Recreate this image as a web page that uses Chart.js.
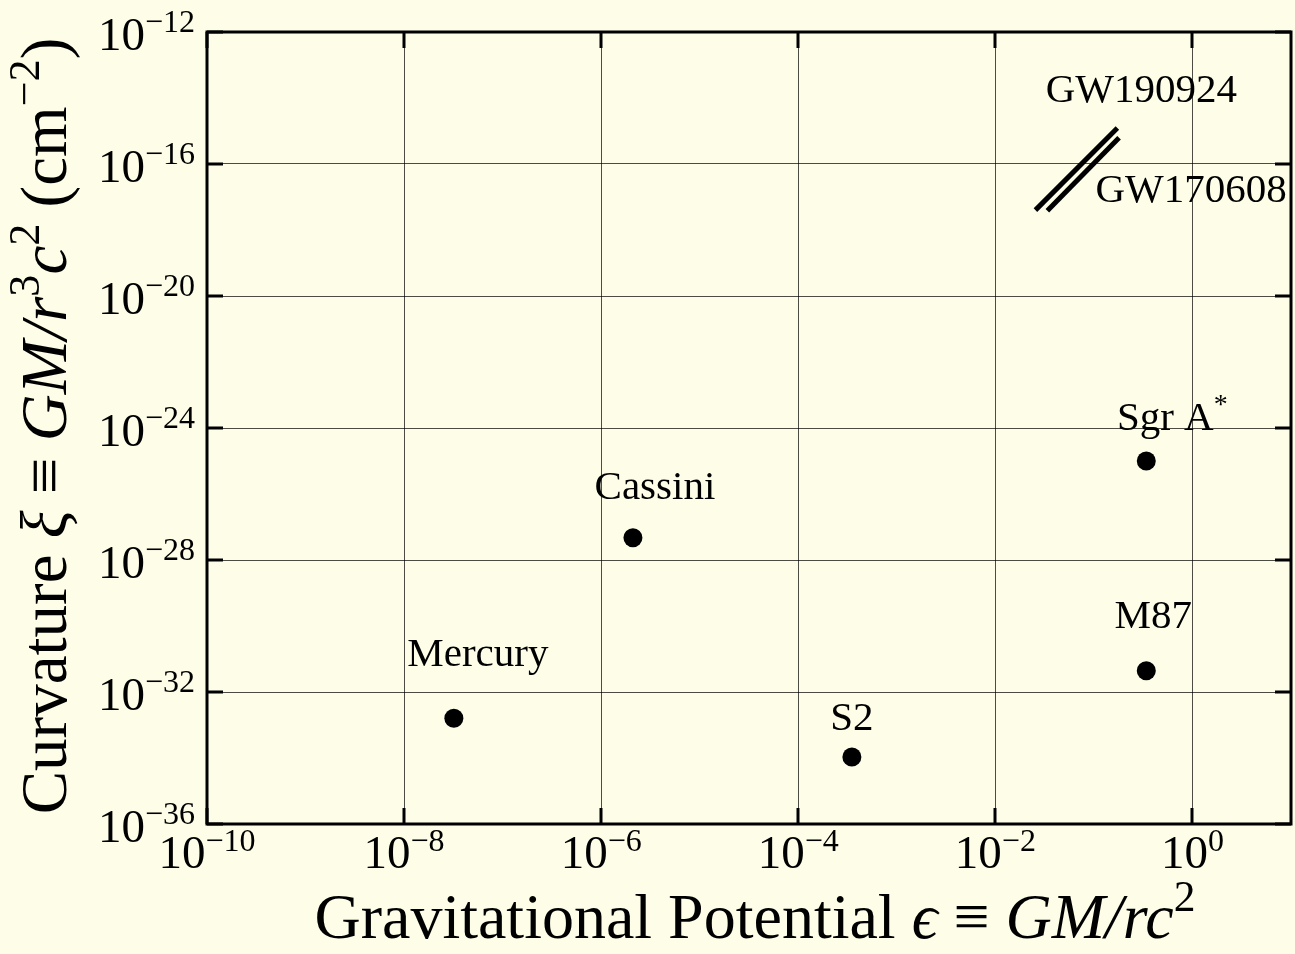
<!DOCTYPE html>
<html lang="en">
  <head>
    <meta charset="UTF-8" />
    <title>Curvature vs potential</title>
    <script src="https://cdn.jsdelivr.net/npm/chart.js@4.4.1/dist/chart.umd.min.js"></script>
    <style>
      html, body { margin: 0; padding: 0; background: #fdfde8; }
      #wrap { width: 1295px; height: 954px; position: relative; }
    </style>
  </head>
  <body>
    <div id="wrap"><canvas id="curvatureChart"></canvas></div>
    <script>
      // tests of gravity: potential eps = GM/rc^2 and curvature xi = GM/r^3c^2
      const names = ["Mercury", "Cassini", "S2", "Sgr A", "M87"];
      const potential = [3.2e-8, 2.1e-6, 3.5e-4, 0.34, 0.34];
      const curvature = [1.6e-33, 4.7e-28, 1.07e-34, 1.0e-25, 4.4e-32];

      // the two GW events are segments (range of radii)
      const gwNames = ["GW190924", "GW170608"];
      const gw190924Potential = [0.0255, 0.173];
      const gw190924Curvature = [4.0e-18, 1.23e-15];
      const gw170608Potential = [0.0337, 0.18];
      const gw170608Curvature = [3.8e-18, 6.2e-16];

      const xTicks = [1e-10, 1e-8, 1e-6, 1e-4, 1e-2, 1e0];
      const xTickExp = ["−10", "−8", "−6", "−4", "−2", "0"];
      const yTicks = [1e-36, 1e-32, 1e-28, 1e-24, 1e-20, 1e-16, 1e-12];
      const yTickExp = ["−36", "−32", "−28", "−24", "−20", "−16", "−12"];

      // label placement relative to the point, in px (centre x, baseline y)
      const labelOffsets = [[24, -52], [22, -39], [0, -27], [26, -31], [7, -43]];
      const gwLabelOffsets = [[24, -26], [72, 64]];

      const BG = "#fdfde8";
      const SERIF = '"Liberation Serif", "DejaVu Serif", serif';

      function font(size, italic) {
        return (italic ? "italic " : "") + size + "px " + SERIF;
      }

      // draws a list of text pieces (with optional superscripts) centred on x
      function drawRich(ctx, segs, x, y, size, align) {
        let total = 0;
        segs.forEach((s) => {
          const sz = s.sup ? size * 0.68 : size;
          ctx.font = font(sz, s.it);
          s.w = ctx.measureText(s.t).width;
          total += s.w;
        });
        let cx = align === "right" ? x - total : x - total / 2;
        ctx.textAlign = "left";
        ctx.textBaseline = "alphabetic";
        segs.forEach((s) => {
          const sz = s.sup ? size * 0.68 : size;
          ctx.font = font(sz, s.it);
          ctx.fillText(s.t, cx, s.sup ? y - size * 0.42 : y);
          cx += s.w;
        });
      }

      const framePlugin = {
        id: "frame",
        beforeDraw(chart) {
          const ctx = chart.ctx;
          ctx.save();
          ctx.fillStyle = BG;
          ctx.fillRect(0, 0, chart.width, chart.height);
          ctx.restore();
        },
        afterDraw(chart) {
          const ctx = chart.ctx;
          const a = chart.chartArea;
          const xs = chart.scales.x;
          const ys = chart.scales.y;
          ctx.save();
          ctx.fillStyle = "#000";
          ctx.strokeStyle = "#000";

          // inward ticks on all four sides
          ctx.lineWidth = 3;
          const tl = 16;
          ctx.beginPath();
          xTicks.forEach((v) => {
            const px = Math.round(xs.getPixelForValue(v));
            ctx.moveTo(px, a.bottom);
            ctx.lineTo(px, a.bottom - tl);
            ctx.moveTo(px, a.top);
            ctx.lineTo(px, a.top + tl);
          });
          yTicks.forEach((v) => {
            const py = Math.round(ys.getPixelForValue(v));
            ctx.moveTo(a.left, py);
            ctx.lineTo(a.left + tl, py);
            ctx.moveTo(a.right, py);
            ctx.lineTo(a.right - tl, py);
          });
          ctx.stroke();

          // frame
          ctx.lineWidth = 3;
          ctx.strokeRect(a.left, a.top, a.right - a.left, a.bottom - a.top);

          // tick labels 10^n
          xTicks.forEach((v, i) => {
            const px = xs.getPixelForValue(v);
            ctx.font = font(47);
            const wb = ctx.measureText("10").width;
            ctx.font = font(32);
            const we = ctx.measureText(xTickExp[i]).width;
            const x0 = px - (wb + we) / 2;
            ctx.textAlign = "left";
            ctx.font = font(47);
            ctx.fillText("10", x0, a.bottom + 44);
            ctx.font = font(32);
            ctx.fillText(xTickExp[i], x0 + wb, a.bottom + 27);
          });
          yTicks.forEach((v, i) => {
            const py = ys.getPixelForValue(v);
            ctx.font = font(32);
            const we = ctx.measureText(yTickExp[i]).width;
            ctx.font = font(47);
            const wb = ctx.measureText("10").width;
            const xr = a.left - 12;
            ctx.textAlign = "left";
            ctx.fillText("10", xr - we - wb, py + 18);
            ctx.font = font(32);
            ctx.fillText(yTickExp[i], xr - we, py);
          });

          // axis titles
          drawRich(ctx, [
            { t: "Gravitational Potential " },
            { t: "ϵ", it: true },
            { t: " ≡ " },
            { t: "GM/rc", it: true },
            { t: "2", sup: true },
          ], (a.left + a.right) / 2 + 6, 938, 64);

          ctx.save();
          ctx.translate(66, (a.top + a.bottom) / 2 - 2);
          ctx.rotate(-Math.PI / 2);
          drawRich(ctx, [
            { t: "Curvature " },
            { t: "ξ", it: true },
            { t: " ≡ " },
            { t: "GM/r", it: true },
            { t: "3", sup: true },
            { t: "c", it: true },
            { t: "2", sup: true },
            { t: " (cm" },
            { t: "−2", sup: true },
            { t: ")" },
          ], 0, 0, 65);
          ctx.restore();

          // point labels
          names.forEach((n, i) => {
            const px = xs.getPixelForValue(potential[i]);
            const py = ys.getPixelForValue(curvature[i]);
            const segs = [{ t: n }];
            if (n === "Sgr A") segs.push({ t: "*", sup: true });
            drawRich(ctx, segs, px + labelOffsets[i][0], py + labelOffsets[i][1], 41);
          });
          const gwTops = [
            [gw190924Potential[1], gw190924Curvature[1]],
            [gw170608Potential[1], gw170608Curvature[1]],
          ];
          gwNames.forEach((n, i) => {
            const px = xs.getPixelForValue(gwTops[i][0]);
            const py = ys.getPixelForValue(gwTops[i][1]);
            drawRich(ctx, [{ t: n }], px + gwLabelOffsets[i][0], py + gwLabelOffsets[i][1], 41);
          });
          ctx.restore();
        },
      };

      const toXY = (xs, ys) => xs.map((x, i) => ({ x: x, y: ys[i] }));

      const ctx = document.getElementById("curvatureChart").getContext("2d");
      new Chart(ctx, {
        type: "scatter",
        data: {
          datasets: [
            {
              label: "tests",
              data: toXY(potential, curvature),
              backgroundColor: "#000",
              borderWidth: 0,
              pointRadius: 9.5,
            },
            {
              label: gwNames[0],
              data: toXY(gw190924Potential, gw190924Curvature),
              showLine: true,
              borderColor: "#000",
              borderWidth: 5,
              pointRadius: 0,
            },
            {
              label: gwNames[1],
              data: toXY(gw170608Potential, gw170608Curvature),
              showLine: true,
              borderColor: "#000",
              borderWidth: 5,
              pointRadius: 0,
            },
          ],
        },
        options: {
          responsive: true,
          maintainAspectRatio: false,
          animation: false,
          layout: { autoPadding: false, padding: { left: 207, right: 4, top: 32, bottom: 130 } },
          plugins: { legend: { display: false }, tooltip: { enabled: false } },
          scales: {
            x: {
              type: "logarithmic",
              min: 1e-10,
              max: 1e1,
              afterBuildTicks: (s) => { s.ticks = xTicks.map((v) => ({ value: v })); },
              afterFit: (s) => { s.height = 0; },
              ticks: { display: false },
              border: { display: false },
              grid: { color: "rgba(0,0,0,0.7)", lineWidth: 1, drawTicks: false },
            },
            y: {
              type: "logarithmic",
              min: 1e-36,
              max: 1e-12,
              afterBuildTicks: (s) => { s.ticks = yTicks.map((v) => ({ value: v })); },
              afterFit: (s) => { s.width = 0; },
              ticks: { display: false },
              border: { display: false },
              grid: { color: "rgba(0,0,0,0.7)", lineWidth: 1, drawTicks: false },
            },
          },
        },
        plugins: [framePlugin],
      });
    </script>
  </body>
</html>
